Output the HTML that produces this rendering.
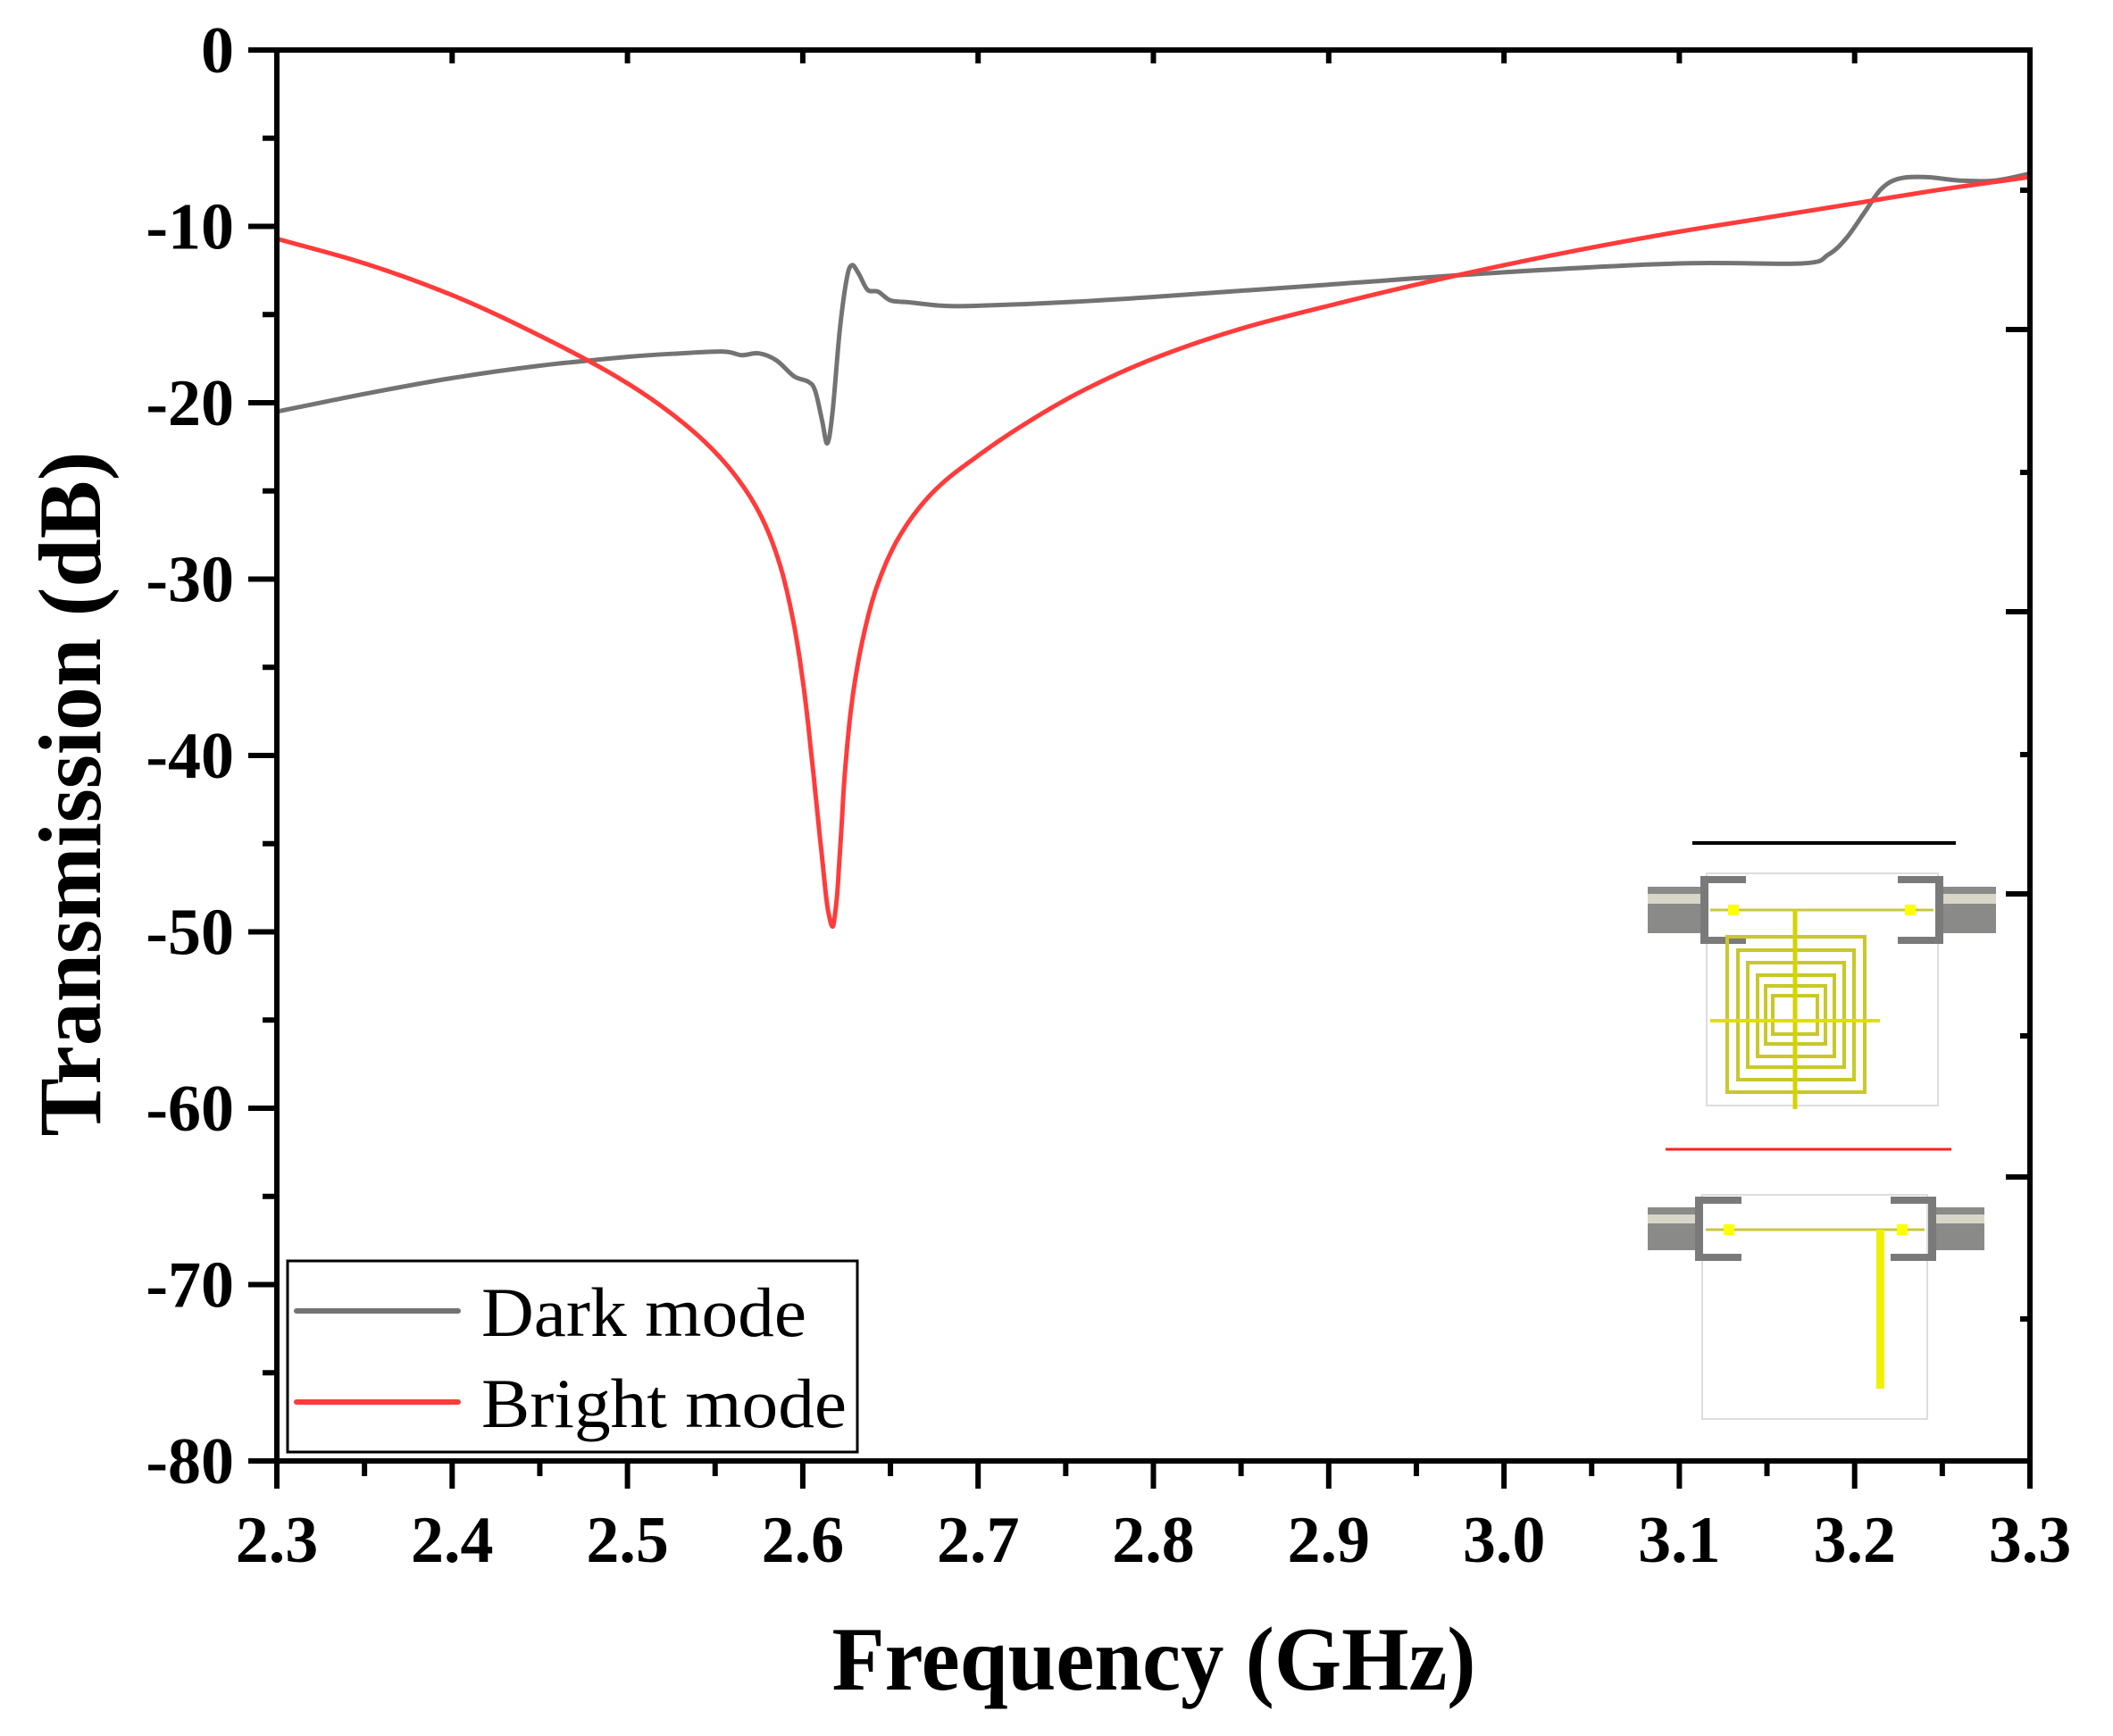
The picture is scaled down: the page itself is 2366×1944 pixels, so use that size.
<!DOCTYPE html>
<html><head><meta charset="utf-8"><style>
html,body{margin:0;padding:0;background:#fff;}
svg{display:block;}
text{font-family:"Liberation Serif","Times New Roman",serif;}
</style></head><body>
<svg id="s" width="2366" height="1944" viewBox="0 0 2366 1944" xmlns="http://www.w3.org/2000/svg">
<rect width="2366" height="1944" fill="#fff"/>
<g id="ticks" stroke="#000" stroke-width="6"></g>
<path id="gray" fill="none" stroke="#737373" stroke-width="5" stroke-linejoin="round"/>
<path id="red" fill="none" stroke="#ff3b3b" stroke-width="5" stroke-linejoin="round"/>
<rect x="310" y="56" width="1963" height="1580" fill="none" stroke="#000" stroke-width="6"/>
<g id="ylab" font-weight="bold" font-size="74" text-anchor="end"></g>
<g id="xlab" font-weight="bold" font-size="74" text-anchor="middle"></g>
<text x="1292" y="1892" font-weight="bold" font-size="102" text-anchor="middle" textLength="721" lengthAdjust="spacingAndGlyphs">Frequency (GHz)</text>
<text transform="translate(112,889) rotate(-90)" font-weight="bold" font-size="100" text-anchor="middle" textLength="767" lengthAdjust="spacingAndGlyphs">Transmission (dB)</text>
<rect x="322" y="1412" width="638" height="214" fill="#fff" stroke="#000" stroke-width="3"/>
<line x1="332" y1="1468" x2="513" y2="1468" stroke="#737373" stroke-width="6" stroke-linecap="round"/>
<line x1="332" y1="1570" x2="513" y2="1570" stroke="#ff3b3b" stroke-width="6" stroke-linecap="round"/>
<text x="539" y="1496" font-size="78" textLength="364" lengthAdjust="spacingAndGlyphs">Dark mode</text>
<text x="539" y="1598" font-size="78" textLength="409" lengthAdjust="spacingAndGlyphs">Bright mode</text>
<g>
<line x1="1895" y1="944" x2="2190" y2="944" stroke="#000" stroke-width="4"/>
<rect x="1911" y="978" width="259" height="260" fill="#fff" stroke="#ddd" stroke-width="2"/>
<rect x="1845" y="993" width="60" height="52" fill="#8a8a88"/><rect x="1845" y="1001" width="60" height="11" fill="#d8d6c8"/>
<rect x="2175" y="993" width="60" height="52" fill="#8a8a88"/><rect x="2175" y="1001" width="60" height="11" fill="#d8d6c8"/>
<path d="M1955 981H1904V1057H1955V1049H1913V989H1955Z" fill="#7a7a7a"/>
<path d="M2125 981H2176V1057H2125V1049H2167V989H2125Z" fill="#7a7a7a"/>
<line x1="1915" y1="1019" x2="2165" y2="1019" stroke="#c8c840" stroke-width="3"/>
<rect x="1935" y="1013" width="12" height="12" fill="#ff0"/><rect x="2133" y="1013" width="12" height="12" fill="#ff0"/>
<g fill="none" stroke="#c8c82a" stroke-width="4">
<rect x="1934" y="1049" width="154" height="174"/>
<rect x="1946" y="1064" width="130" height="145"/>
<rect x="1957" y="1078" width="108" height="117"/>
<rect x="1968" y="1092" width="86" height="91"/>
<rect x="1977" y="1104" width="67" height="65"/>
<rect x="1985" y="1115" width="50" height="43"/>
</g>
<line x1="2010" y1="1019" x2="2010" y2="1242" stroke="#d4d400" stroke-width="5"/>
<line x1="1915" y1="1143" x2="2105" y2="1143" stroke="#e0e000" stroke-width="4"/>
<line x1="1865" y1="1287" x2="2185" y2="1287" stroke="#ff2020" stroke-width="3"/>
<rect x="1906" y="1338" width="252" height="251" fill="#fff" stroke="#ddd" stroke-width="2"/>
<rect x="1845" y="1352" width="55" height="48" fill="#8a8a88"/><rect x="1845" y="1360" width="55" height="10" fill="#d8d6c8"/>
<rect x="2167" y="1352" width="55" height="48" fill="#8a8a88"/><rect x="2167" y="1360" width="55" height="10" fill="#d8d6c8"/>
<path d="M1950 1340H1898V1412H1950V1404H1907V1348H1950Z" fill="#7a7a7a"/>
<path d="M2117 1340H2168V1412H2117V1404H2159V1348H2117Z" fill="#7a7a7a"/>
<line x1="1910" y1="1377" x2="2155" y2="1377" stroke="#c8c840" stroke-width="3"/>
<rect x="1930" y="1371" width="12" height="12" fill="#ff0"/><rect x="2124" y="1371" width="12" height="12" fill="#ff0"/>
<rect x="2101" y="1377" width="9" height="178" fill="#f0f000"/>
</g>
</svg>
<script>
var X0=310,X1=2273,Y0=56,PD=19.75;
function px(f){return X0+(f-2.3)/1.0*(X1-X0);}
function py(d){return Y0-d*PD;}
var NS="http://www.w3.org/2000/svg";
function el(p,n,a,t){var e=document.createElementNS(NS,n);for(var k in a)e.setAttribute(k,a[k]);if(t)e.textContent=t;document.getElementById(p).appendChild(e);}
for(var d=0;d>=-80;d-=5){var y=py(d),L=(d%10==0)?32:16;el("ticks","line",{x1:310-L,y1:y,x2:310,y2:y});}
for(var d=0;d>=-80;d-=10){el("ylab","text",{x:262,y:py(d)+25},String(d));}
var rt=[[213,11],[369,27],[529,11],[685,27],[845,11],[1001,27],[1160,11],[1318,27],[1477,11]];
rt.forEach(function(t){el("ticks","line",{x1:2273-t[1],y1:t[0],x2:2273,y2:t[0]});});
for(var i=0;i<=20;i++){var f=2.3+i*0.05,x=px(f),L=(i%2==0)?31:17;el("ticks","line",{x1:x,y1:1636,x2:x,y2:1636+L});
 if(i%2==0&&i>0&&i<20)el("ticks","line",{x1:x,y1:56,x2:x,y2:71});}
for(var i=0;i<=10;i++){el("xlab","text",{x:px(2.3+i*0.1),y:1749},(2.3+i*0.1).toFixed(1));}
function path(a){var p=a.map(function(q){return[px(q[0]),py(q[1])];});var s="M"+p[0][0].toFixed(1)+" "+p[0][1].toFixed(1);
 for(var i=0;i<p.length-1;i++){var p0=p[i-1]||p[i],p1=p[i],p2=p[i+1],p3=p[i+2]||p2;
  var c1=[p1[0]+(p2[0]-p0[0])/6,p1[1]+(p2[1]-p0[1])/6],c2=[p2[0]-(p3[0]-p1[0])/6,p2[1]-(p3[1]-p1[1])/6];
  s+="C"+c1[0].toFixed(1)+" "+c1[1].toFixed(1)+" "+c2[0].toFixed(1)+" "+c2[1].toFixed(1)+" "+p2[0].toFixed(1)+" "+p2[1].toFixed(1);}
 return s;}
// monotone cubic (Fritsch-Carlson) dense sampling
function mono(a){var n=a.length,x=a.map(q=>q[0]),y=a.map(q=>q[1]),h=[],dl=[],m=[];
 for(var i=0;i<n-1;i++){h[i]=x[i+1]-x[i];dl[i]=(y[i+1]-y[i])/h[i];}
 m[0]=dl[0];m[n-1]=dl[n-2];
 for(var i=1;i<n-1;i++){if(dl[i-1]*dl[i]<=0)m[i]=0;else{var w1=2*h[i]+h[i-1],w2=h[i]+2*h[i-1];m[i]=(w1+w2)/(w1/dl[i-1]+w2/dl[i]);}}
 var pts=[];
 for(var i=0;i<n-1;i++){var N=Math.max(4,Math.ceil(h[i]*2000));for(var k=0;k<N;k++){var t=k/N,t2=t*t,t3=t2*t;
  var v=(2*t3-3*t2+1)*y[i]+(t3-2*t2+t)*h[i]*m[i]+(-2*t3+3*t2)*y[i+1]+(t3-t2)*h[i]*m[i+1];
  pts.push(px(x[i]+t*h[i]).toFixed(1)+" "+py(v).toFixed(1));}}
 pts.push(px(x[n-1]).toFixed(1)+" "+py(y[n-1]).toFixed(1));
 return "M"+pts.join("L");}
var red=[[2.30,-10.7],[2.35,-12.1],[2.40,-13.9],[2.45,-16.2],[2.50,-18.9],[2.53,-21.0],[2.55,-22.8],[2.565,-24.6],[2.577,-26.6],[2.587,-29.2],[2.595,-32.6],[2.601,-36.5],[2.6055,-40.5],[2.6105,-45.3],[2.6148,-49.0],[2.617,-49.7],[2.619,-48.5],[2.6215,-45],[2.624,-41],[2.628,-37],[2.634,-33.5],[2.642,-30.5],[2.655,-27.6],[2.675,-25.0],[2.70,-23.0],[2.73,-21.0],[2.76,-19.3],[2.80,-17.5],[2.85,-15.8],[2.90,-14.5],[2.95,-13.3],[3.00,-12.2],[3.05,-11.2],[3.10,-10.3],[3.15,-9.5],[3.20,-8.7],[3.25,-7.9],[3.30,-7.2]];
var gray=[[2.3,-20.5],[2.35,-19.5],[2.4,-18.6],[2.45,-17.9],[2.5,-17.4],[2.53,-17.2],[2.555,-17.1],[2.565,-17.3],[2.575,-17.2],[2.585,-17.6],[2.595,-18.5],[2.603,-18.8],[2.607,-19.3],[2.611,-21.0],[2.614,-22.3],[2.617,-20.5],[2.621,-16],[2.625,-13],[2.628,-12.2],[2.632,-12.7],[2.637,-13.6],[2.643,-13.7],[2.65,-14.2],[2.66,-14.3],[2.68,-14.5],[2.7,-14.5],[2.75,-14.3],[2.8,-14.0],[2.9,-13.3],[3.0,-12.6],[3.1,-12.1],[3.17,-12.1],[3.185,-11.6],[3.195,-10.7],[3.205,-9.3],[3.215,-7.9],[3.225,-7.3],[3.24,-7.2],[3.26,-7.4],[3.28,-7.4],[3.3,-7.0]];
document.getElementById("red").setAttribute("d",mono(red));
document.getElementById("gray").setAttribute("d",path(gray));
</script>
</body></html>
